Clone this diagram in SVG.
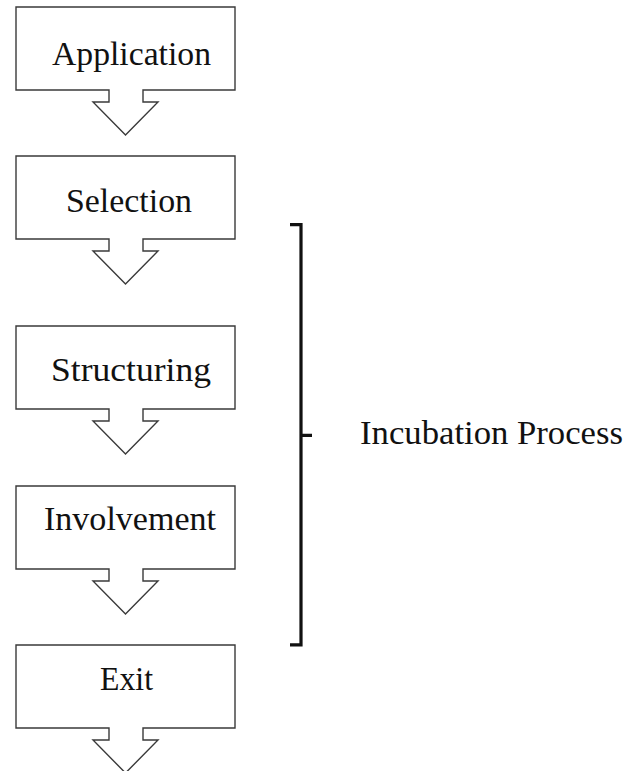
<svg xmlns="http://www.w3.org/2000/svg" width="628" height="771" viewBox="0 0 628 771">
  <defs>
    <style>
      .callout { fill: #ffffff; stroke: #3a3a3a; stroke-width: 1.4; stroke-linejoin: miter; }
      .label { font-family: "Liberation Serif", "Times New Roman", serif; font-size: 33px; fill: #111111; }
      .brace { fill: none; stroke: #111111; stroke-width: 3.2; stroke-linejoin: miter; }
    </style>
    <!-- box with a down-pointing callout arrow, origin at box top-left -->
    <path id="callout-shape" d="M0,0 H219 V83 H127 V95 H142 L109.5,128 L77,95 H93 V83 H0 Z"/>
  </defs>
  <rect width="628" height="771" fill="#ffffff"/>

  <g id="application">
    <use href="#callout-shape" class="callout" x="16" y="7"/>
    <text class="label" x="52" y="65" textLength="159" lengthAdjust="spacingAndGlyphs">Application</text>
  </g>

  <g id="selection">
    <use href="#callout-shape" class="callout" x="16" y="156"/>
    <text class="label" x="66" y="212" textLength="126" lengthAdjust="spacingAndGlyphs">Selection</text>
  </g>

  <g id="structuring">
    <use href="#callout-shape" class="callout" x="16" y="326"/>
    <text class="label" x="51" y="381" textLength="160" lengthAdjust="spacingAndGlyphs">Structuring</text>
  </g>

  <g id="involvement">
    <use href="#callout-shape" class="callout" x="16" y="486"/>
    <text class="label" x="44" y="530" textLength="172" lengthAdjust="spacingAndGlyphs">Involvement</text>
  </g>

  <g id="exit">
    <use href="#callout-shape" class="callout" x="16" y="645"/>
    <text class="label" x="100" y="690" textLength="53" lengthAdjust="spacingAndGlyphs">Exit</text>
  </g>

  <g id="connectors">
    <!-- bracket grouping the incubation stages -->
    <path class="brace" d="M290,224.7 H301 V644.8 H290 M301,435.3 H312"/>
  </g>

  <g id="incubation-process">
    <text class="label" x="360" y="444" textLength="263" lengthAdjust="spacingAndGlyphs">Incubation Process</text>
  </g>
</svg>
